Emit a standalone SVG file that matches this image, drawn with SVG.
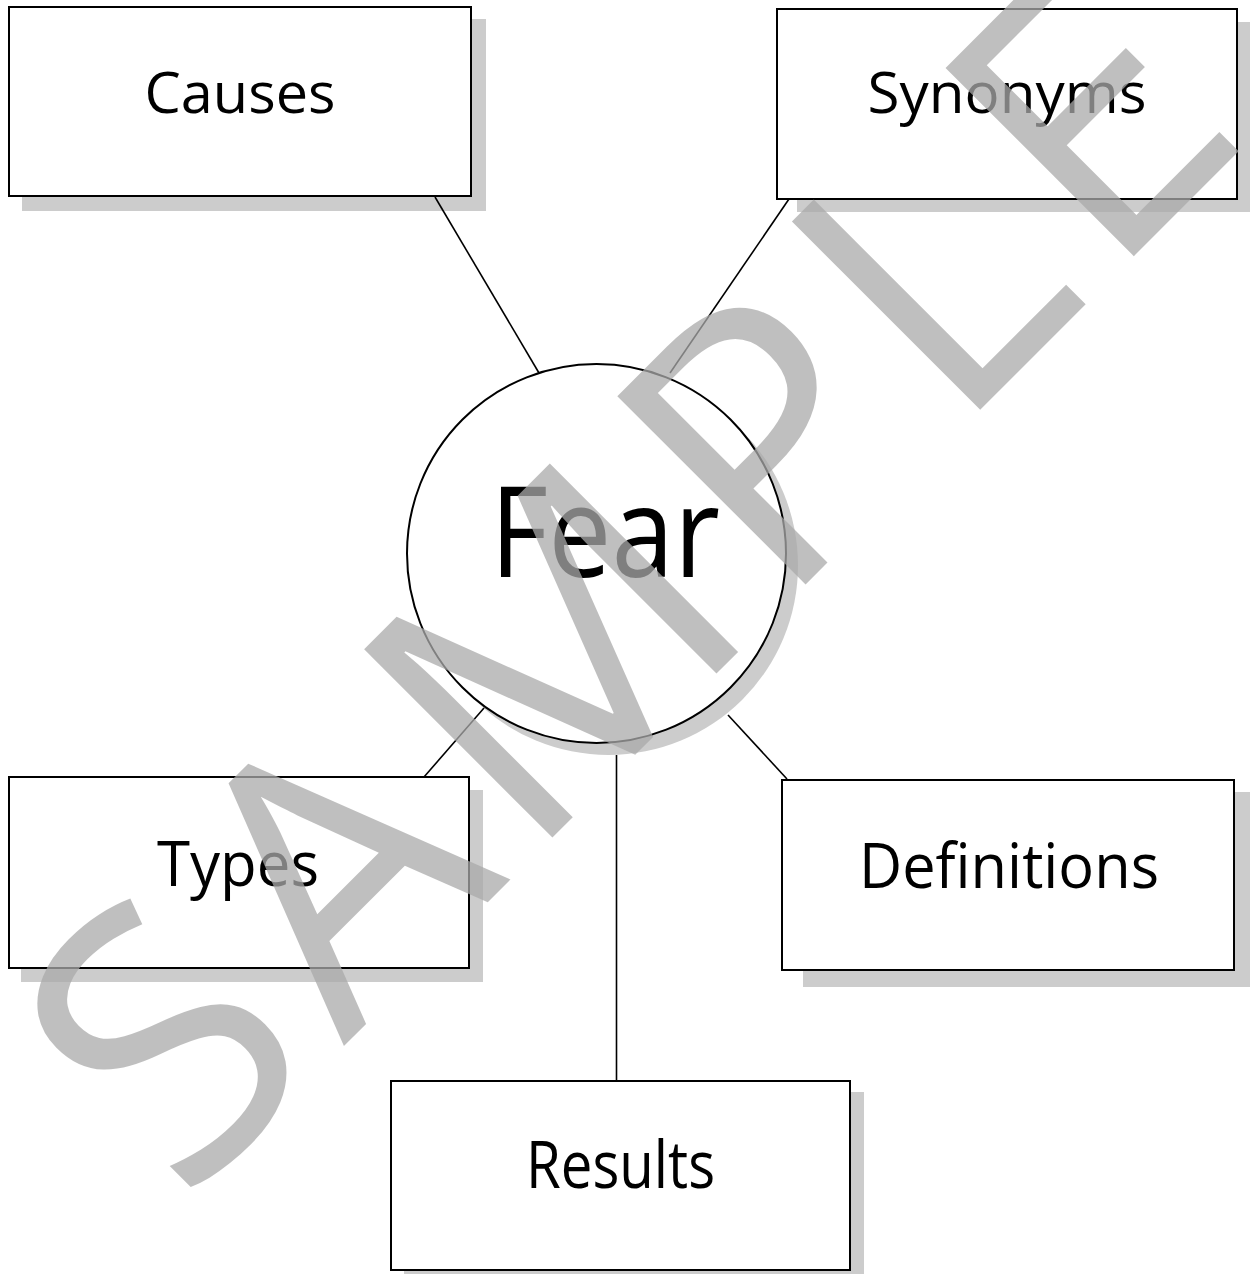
<svg xmlns="http://www.w3.org/2000/svg" width="1250" height="1274" viewBox="0 0 1250 1274">
<style>
.shadow{fill:#cccccc;stroke:none}
.box{fill:#ffffff;stroke:#000000;stroke-width:2}
.link{stroke:#000000;stroke-width:1.6;fill:none}
.label{font-family:"Open Sans","Noto Sans","Liberation Sans",sans-serif;fill:#000000;text-anchor:middle}
.wm{font-family:"Open Sans","Noto Sans","Liberation Sans",sans-serif;fill:#aaaaaa;fill-opacity:0.75;text-anchor:middle}
</style>
<rect width="1250" height="1274" fill="#ffffff"/>
<g id="shadows">
<rect class="shadow" x="22" y="19" width="464" height="192"/>
<rect class="shadow" x="797" y="22" width="460" height="190"/>
<rect class="shadow" x="21" y="790" width="462" height="192"/>
<rect class="shadow" x="803" y="792" width="452" height="195"/>
<rect class="shadow" x="404" y="1092" width="460" height="190"/>
<circle class="shadow" cx="608.5" cy="565.5" r="189.5"/>
</g>
<g id="connectors">
<line class="link" x1="435" y1="197" x2="539" y2="373"/>
<line class="link" x1="789" y1="199" x2="670" y2="373"/>
<line class="link" x1="424" y1="777" x2="484" y2="708"/>
<line class="link" x1="728" y1="715" x2="787" y2="779"/>
<line class="link" x1="616.5" y1="755" x2="616.5" y2="1081"/>
</g>
<g id="node-causes">
<rect class="box" x="9" y="7" width="462" height="189"/>
<text class="label" x="240" y="113" font-size="56" textLength="191" lengthAdjust="spacingAndGlyphs">Causes</text>
</g>
<g id="node-synonyms">
<rect class="box" x="777" y="9" width="460" height="190"/>
<text class="label" x="1007" y="113" font-size="57" textLength="279" lengthAdjust="spacingAndGlyphs">Synonyms</text>
</g>
<g id="node-fear">
<circle class="box" cx="596.5" cy="553.5" r="189.5"/>
<text class="label" x="605" y="577" font-size="126" textLength="230" lengthAdjust="spacingAndGlyphs">Fear</text>
</g>
<g id="node-types">
<rect class="box" x="9" y="777" width="460" height="191"/>
<text class="label" x="238" y="886" font-size="63" textLength="162" lengthAdjust="spacingAndGlyphs">Types</text>
</g>
<g id="node-definitions">
<rect class="box" x="782" y="780" width="452" height="190"/>
<text class="label" x="1009" y="888" font-size="63" textLength="300" lengthAdjust="spacingAndGlyphs">Definitions</text>
</g>
<g id="node-results">
<rect class="box" x="391" y="1081" width="459" height="189"/>
<text class="label" x="620.5" y="1188" font-size="65" textLength="189" lengthAdjust="spacingAndGlyphs">Results</text>
</g>
<g id="watermark">
<text class="wm" x="719" y="671" font-size="373" textLength="1515" lengthAdjust="spacing" transform="rotate(-45 719 671)">SAMPLE</text>
</g>
</svg>
